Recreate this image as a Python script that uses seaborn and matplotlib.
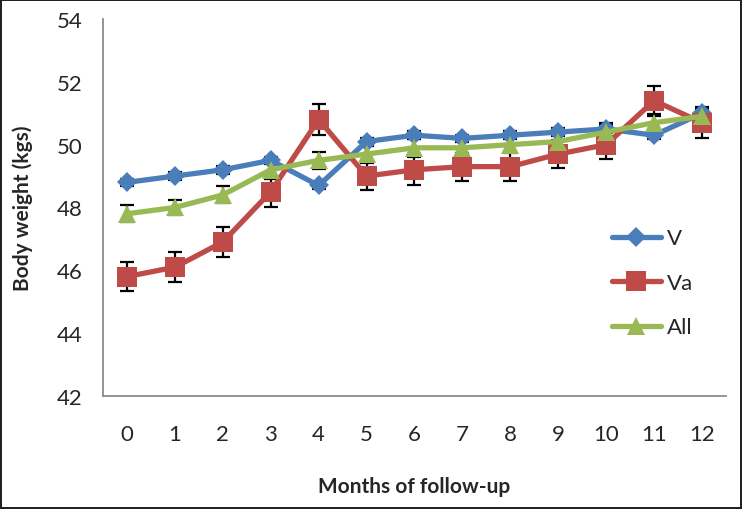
import pandas as pd
import matplotlib.pyplot as plt
import seaborn as sns

# data
months = list(range(13))
v_vals = [48.8, 49.0, 49.2, 49.5, 48.7, 50.1, 50.3, 50.2, 50.3, 50.4, 50.5, 50.3, 51.0]
va_vals = [45.8, 46.1, 46.9, 48.5, 50.8, 49.0, 49.2, 49.3, 49.3, 49.7, 50.0, 51.4, 50.7]
all_vals = [47.8, 48.0, 48.4, 49.2, 49.5, 49.7, 49.9, 49.9, 50.0, 50.1, 50.4, 50.7, 50.9]
v_err = [0.12, 0.12, 0.12, 0.12, 0.12, 0.12, 0.12, 0.12, 0.12, 0.12, 0.12, 0.12, 0.12]
va_err = [0.47, 0.48, 0.47, 0.5, 0.5, 0.45, 0.5, 0.45, 0.47, 0.45, 0.47, 0.48, 0.5]
all_err = [0.27, 0.25, 0.27, 0.3, 0.28, 0.27, 0.28, 0.27, 0.27, 0.28, 0.28, 0.28, 0.28]
series = ["V", "Va", "All"]
y_ticks = [42, 44, 46, 48, 50, 52, 54]

df = pd.DataFrame({
    "month": months * 3,
    "weight": v_vals + va_vals + all_vals,
    "err": v_err + va_err + all_err,
    "group": ["V"] * 13 + ["Va"] * 13 + ["All"] * 13,
})

sns.set_style("white")
plt.rcParams["font.family"] = ["Lato", "DejaVu Sans"]

colors = {"V": "#4A7EBB", "Va": "#BE4B48", "All": "#98B954"}
markers = {"V": "D", "Va": "s", "All": "^"}
msizes = {"V": 10, "Va": 15, "All": 13}

fig = plt.figure(figsize=(7.42, 5.10), dpi=100)
fig.patch.set_edgecolor("#222222")
fig.patch.set_linewidth(1.5)
ax = fig.add_axes([0.1388, 0.2216, 0.8396, 0.7392])

for name in series:
    sub = df[df["group"] == name]
    ax.errorbar(sub["month"], sub["weight"], yerr=sub["err"], fmt="none",
                ecolor="black", elinewidth=1.6, capsize=5, capthick=1.6, zorder=1)
    sns.lineplot(data=sub, x="month", y="weight", ax=ax, color=colors[name],
                 linewidth=3.8, marker=markers[name], markersize=msizes[name],
                 markeredgewidth=0, label=name, zorder=2)

ax.set_xlim(-0.5, 12.5)
ax.set_ylim(42, 54)
ax.set_xticks(months)
ax.set_xticks([m - 0.5 for m in months] + [12.5], minor=True)
ax.tick_params(axis="x", which="major", length=0, pad=20, labelsize=16)
ax.tick_params(axis="x", which="minor", length=6, width=1.2, color="#8c8c8c", direction="out")
ax.set_yticks(y_ticks)
ax.tick_params(axis="y", length=6, width=1.2, color="#8c8c8c", direction="out", pad=9, labelsize=16)

for s in ["top", "right"]:
    ax.spines[s].set_visible(False)
for s in ["left", "bottom"]:
    ax.spines[s].set_color("#8c8c8c")
    ax.spines[s].set_linewidth(1.3)

ax.set_xlabel("Months of follow-up", fontsize=15, fontweight="bold", labelpad=23)
ax.set_ylabel("Body weight (kgs)", fontsize=15, fontweight="bold", labelpad=17)

leg = ax.legend(loc="center left", bbox_to_anchor=(0.785, 0.3), frameon=False,
                fontsize=16, handlelength=2.2, labelspacing=1.1, handletextpad=0.25)

fig.savefig("out.png", dpi=100)
